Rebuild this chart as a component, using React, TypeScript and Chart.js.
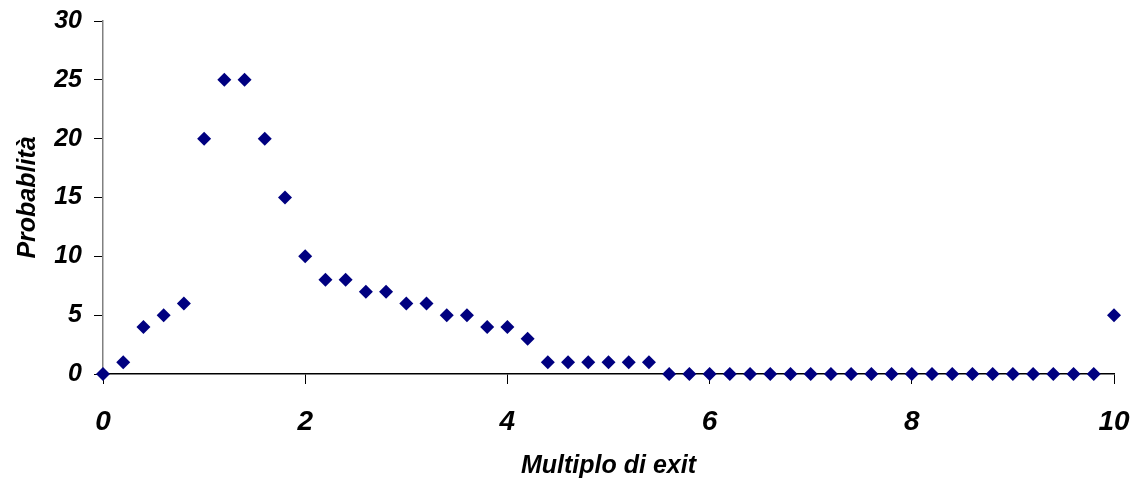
import { useEffect, useRef } from "react";
import { Chart, registerables } from "chart.js";

Chart.register(...registerables);

const multiples = [
  0, 0.2, 0.4, 0.6, 0.8, 1.0, 1.2, 1.4, 1.6, 1.8,
  2.0, 2.2, 2.4, 2.6, 2.8, 3.0, 3.2, 3.4, 3.6, 3.8,
  4.0, 4.2, 4.4, 4.6, 4.8, 5.0, 5.2, 5.4, 5.6, 5.8,
  6.0, 6.2, 6.4, 6.6, 6.8, 7.0, 7.2, 7.4, 7.6, 7.8,
  8.0, 8.2, 8.4, 8.6, 8.8, 9.0, 9.2, 9.4, 9.6, 9.8, 10.0,
];
const probabilities = [
  0, 1, 4, 5, 6, 20, 25, 25, 20, 15,
  10, 8, 8, 7, 7, 6, 6, 5, 5, 4,
  4, 3, 1, 1, 1, 1, 1, 1, 0, 0,
  0, 0, 0, 0, 0, 0, 0, 0, 0, 0,
  0, 0, 0, 0, 0, 0, 0, 0, 0, 0, 5,
];
const xTitle = "Multiplo di exit";
const yTitle = "Probablità";

const FONT = "'Liberation Sans', Arial, sans-serif";

export default function App() {
  const ref = useRef<HTMLCanvasElement | null>(null);

  useEffect(() => {
    if (!ref.current) return;
    const points = multiples.map((x, i) => ({ x, y: probabilities[i] }));
    const chart = new Chart(ref.current, {
      type: "scatter",
      data: {
        datasets: [
          {
            data: points,
            pointStyle: "rectRot",
            pointRadius: 7,
            pointBorderWidth: 0,
            backgroundColor: "#000080",
            borderColor: "#000080",
            clip: false,
          },
        ],
      },
      options: {
        animation: false,
        responsive: true,
        maintainAspectRatio: false,
        layout: { padding: { top: 21, right: 23, left: 0, bottom: 0 } },
        plugins: { legend: { display: false }, tooltip: { enabled: false } },
        scales: {
          x: {
            type: "linear",
            min: 0,
            max: 10,
            afterFit: (s: any) => {
              s.height = 108;
              s.paddingLeft = 0;
              s.paddingRight = 0;
            },
            ticks: {
              stepSize: 2,
              color: "#000",
              padding: 21,
              font: { family: FONT, size: 28, style: "italic", weight: "bold" },
            },
            grid: {
              drawOnChartArea: false,
              drawTicks: true,
              tickLength: 10,
              color: "#000",
              lineWidth: 1,
            },
            border: { display: true, color: "#000", width: 1.5 },
            title: {
              display: true,
              text: xTitle,
              color: "#000",
              padding: { top: 0, bottom: 1 },
              font: { family: FONT, size: 25, style: "italic", weight: "bold" },
            },
          },
          y: {
            type: "linear",
            min: 0,
            max: 30,
            afterFit: (s: any) => {
              s.width = 103;
              s.paddingTop = 0;
              s.paddingBottom = 0;
            },
            ticks: {
              stepSize: 5,
              color: "#000",
              padding: 12,
              font: { family: FONT, size: 25, style: "italic", weight: "bold" },
            },
            grid: {
              drawOnChartArea: false,
              drawTicks: true,
              tickLength: 9,
              color: "#000",
              lineWidth: 1,
            },
            border: { display: true, color: "#808080", width: 1.5 },
            title: {
              display: true,
              text: yTitle,
              color: "#000",
              padding: { top: 13, bottom: 0 },
              font: { family: FONT, size: 25, style: "italic", weight: "bold" },
            },
          },
        },
      },
    });
    return () => chart.destroy();
  }, []);

  return (
    <div style={{ position: "absolute", left: 0, top: 0, width: 1137, height: 482, background: "#fff" }}>
      <canvas ref={ref} />
    </div>
  );
}
